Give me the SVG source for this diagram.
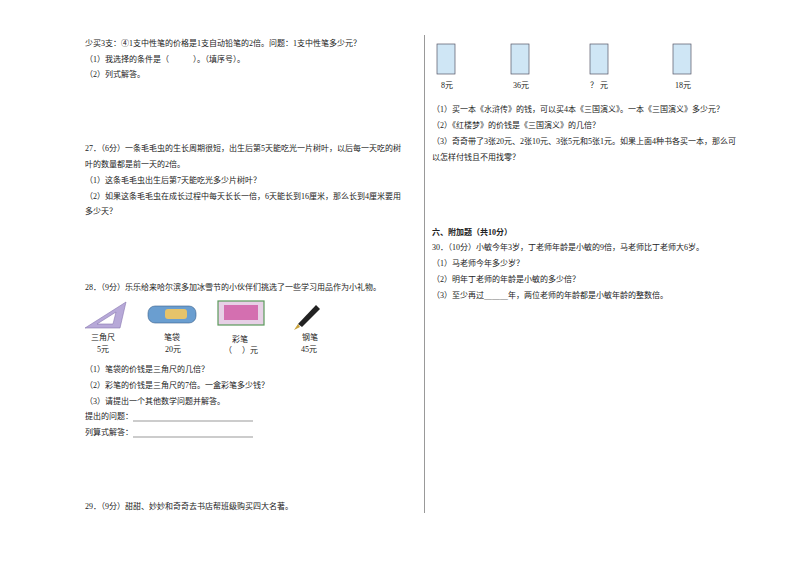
<svg xmlns="http://www.w3.org/2000/svg" width="800" height="566" viewBox="0 0 800 566">
<style>
text{font-family:"Liberation Serif","Noto Sans CJK SC",serif;font-size:8px;fill:#222}
.b{font-weight:bold}
.bk{fill:#cfe6f5;stroke:#556;stroke-width:0.7}
</style>
<rect width="800" height="566" fill="#fff"/>
<line x1="424.5" y1="35" x2="424.5" y2="513" stroke="#999" stroke-width="1"/>
<g id="q26">
<text x="85" y="46">少买3支：④1支中性笔的价格是1支自动铅笔的2倍。问题：1支中性笔多少元？</text>
<text x="85" y="62">（1）我选择的条件是（　　　）。（填序号）。</text>
<text x="85" y="77">（2）列式解答。</text>
</g>
<g id="q27">
<text x="85" y="151">27．（6分）一条毛毛虫的生长周期很短，出生后第5天能吃光一片树叶，以后每一天吃的树</text>
<text x="85" y="167">叶的数量都是前一天的2倍。</text>
<text x="85" y="183">（1）这条毛毛虫出生后第7天能吃光多少片树叶？</text>
<text x="85" y="199">（2）如果这条毛毛虫在成长过程中每天长长一倍，6天能长到16厘米，那么长到4厘米要用</text>
<text x="85" y="214">多少天？</text>
</g>
<g id="q28">
<text x="85" y="290">28．（9分）乐乐给来哈尔滨多加冰雪节的小伙伴们挑选了一些学习用品作为小礼物。</text>
<g id="ruler"><path d="M85,328 L126,302 L120,328 Z M97,324 L116,312 L113,324 Z" fill="#b7a9d8" fill-rule="evenodd" stroke="#8877b0" stroke-width="0.6"/></g>
<g id="case"><rect x="148" y="306" width="48" height="17" rx="7" fill="#6a9ed0" stroke="#3a5f8a" stroke-width="0.6"/><rect x="165" y="309" width="22" height="10" rx="3" fill="#e6c36a"/></g>
<g id="box"><rect x="218" y="301" width="46" height="24" fill="#e7d0e6" stroke="#5b9a5b" stroke-width="1.2"/><rect x="224" y="305" width="34" height="15" fill="#d46fb0"/></g>
<g id="pen"><path d="M298,324 L316,305 L320,309 L302,327 Z" fill="#222"/><path d="M298,324 L294,330 L300,327 Z" fill="#c9a23a"/></g>
<text x="91" y="340">三角尺</text><text x="97" y="352">5元</text>
<text x="164" y="340">笔袋</text><text x="165" y="352">20元</text>
<text x="232" y="342">彩笔</text><text x="224" y="353">（　 ）元</text>
<text x="302" y="340">钢笔</text><text x="301" y="352">45元</text>
<text x="85" y="372">（1）笔袋的价钱是三角尺的几倍？</text>
<text x="85" y="388">（2）彩笔的价钱是三角尺的7倍。一盒彩笔多少钱？</text>
<text x="85" y="404">（3）请提出一个其他数学问题并解答。</text>
<text x="85" y="419">提出的问题：</text>
<text x="85" y="435">列算式解答：</text>
<line x1="133" y1="421" x2="253" y2="421" stroke="#555" stroke-width="0.6"/>
<line x1="133" y1="437" x2="253" y2="437" stroke="#555" stroke-width="0.6"/>
</g>
<g id="q29"><text x="85" y="509">29．（9分）甜甜、妙妙和奇奇去书店帮班级购买四大名著。</text></g>
<g id="books">
<rect class="bk" x="437" y="44" width="18" height="30"/>
<rect class="bk" x="511" y="44" width="18" height="30"/>
<rect class="bk" x="590" y="44" width="18" height="30"/>
<rect class="bk" x="673" y="44" width="18" height="30"/>
<text x="441" y="88">8元</text><text x="513" y="88">36元</text><text x="590" y="88">？ 元</text><text x="675" y="88">18元</text>
</g>
<g id="q29b">
<text x="432" y="112">（1）买一本《水浒传》的钱，可以买4本《三国演义》。一本《三国演义》多少元？</text>
<text x="432" y="128">（2）《红楼梦》的价钱是《三国演义》的几倍？</text>
<text x="432" y="144">（3）奇奇带了3张20元、2张10元、3张5元和5张1元。如果上面4种书各买一本，那么可</text>
<text x="432" y="160">以怎样付钱且不用找零？</text>
</g>
<g id="q30">
<text x="432" y="235" class="b">六、附加题（共10分）</text>
<text x="432" y="250">30．（10分）小敏今年3岁，丁老师年龄是小敏的9倍，马老师比丁老师大6岁。</text>
<text x="432" y="266">（1）马老师今年多少岁？</text>
<text x="432" y="282">（2）明年丁老师的年龄是小敏的多少倍？</text>
<text x="432" y="298">（3）至少再过＿＿＿年，两位老师的年龄都是小敏年龄的整数倍。</text>
</g>
</svg>
